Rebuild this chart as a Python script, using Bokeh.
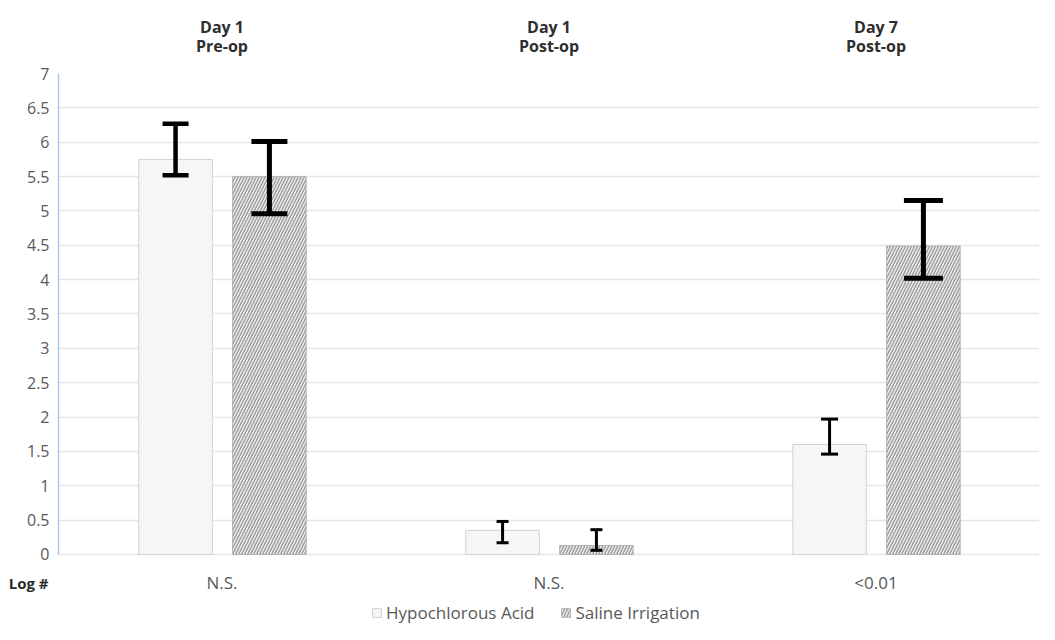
from bokeh.plotting import figure
from bokeh.models import (ColumnDataSource, FixedTicker, Whisker, TeeHead, LinearAxis,
                          Legend, LegendItem, Range1d)
from bokeh.core.properties import value
from bokeh.transform import dodge
from bokeh.embed import file_html
from bokeh.resources import INLINE

# ---- data ----
groups = ["Day 1\nPre-op", "Day 1\nPost-op", "Day 7\nPost-op"]
p_values = ["N.S.", "N.S.", "<0.01"]
series = ["Hypochlorous Acid", "Saline Irrigation"]
hoc_mean = [5.75, 0.35, 1.60]
hoc_low = [5.52, 0.17, 1.46]
hoc_high = [6.27, 0.48, 1.97]
sal_mean = [5.50, 0.13, 4.49]
sal_low = [4.96, 0.06, 4.02]
sal_high = [6.01, 0.36, 5.15]
y_ticks = [0, 0.5, 1, 1.5, 2, 2.5, 3, 3.5, 4, 4.5, 5, 5.5, 6, 6.5, 7]
y_tick_labels = ["0", "0.5", "1", "1.5", "2", "2.5", "3", "3.5", "4", "4.5", "5", "5.5", "6", "6.5", "7"]
row_label = "Log #"

FONT = "Open Sans"
ROW_Y = -0.41          # vertical position of the p-value row (below the zero line)
pos = [i + 0.5 for i in range(len(groups))]  # category centres on a linear scale

p = figure(width=1039, height=624, output_backend="svg", toolbar_location=None,
           x_range=Range1d(0, len(groups)), y_range=Range1d(-1.02, 7),
           x_axis_location="above",
           min_border_left=58, min_border_right=0, min_border_top=73, min_border_bottom=0)
p.outline_line_color = None

src = ColumnDataSource(dict(x=pos, hm=hoc_mean, hl=hoc_low, hh=hoc_high,
                            sm=sal_mean, sl=sal_low, sh=sal_high,
                            pv=p_values, ry=[ROW_Y] * len(pos)))

OFF_H, OFF_S = -0.142, 0.145
r1 = p.vbar(x=dodge("x", OFF_H), top="hm", width=0.225, source=src,
            fill_color="#f4f6f8", line_color="#d2d2d2", line_width=1)
r2 = p.vbar(x=dodge("x", OFF_S), top="sm", width=0.225, source=src,
            fill_color="#ececec", line_color="#b4b4b4", line_width=1,
            hatch_pattern="/", hatch_color="#989898", hatch_scale=6, hatch_weight=1.3)

# error bars (style per bar: line width, cap size)
hoc_style = [(4.5, 26), (3, 12), (3, 17)]
sal_style = [(5, 36), (3, 12), (5, 39)]
for i in range(len(groups)):
    for off, lo, hi, st in ((OFF_H, hoc_low, hoc_high, hoc_style), (OFF_S, sal_low, sal_high, sal_style)):
        s = ColumnDataSource(dict(x=[pos[i]], lo=[lo[i]], hi=[hi[i]]))
        lw, cap = st[i]
        w = Whisker(base=dodge("x", off), lower="lo", upper="hi", source=s, level="overlay",
                    line_color="black", line_width=lw,
                    upper_head=TeeHead(size=cap, line_width=lw, line_color="black"),
                    lower_head=TeeHead(size=cap, line_width=lw, line_color="black"))
        p.add_layout(w)

# p-value row
p.text(x="x", y="ry", text="pv", source=src, text_font=value(FONT), text_font_size="17px",
       text_color="#595959", text_align="center", text_baseline="middle")

# y axis
p.yaxis.ticker = FixedTicker(ticks=y_ticks)
p.yaxis.bounds = (y_ticks[0], y_ticks[-1])
p.yaxis.major_label_overrides = {t: l for t, l in zip(y_ticks, y_tick_labels)}
p.yaxis.axis_line_color = "#a8c6ea"
p.yaxis.axis_line_width = 1.5
p.yaxis.major_tick_line_color = None
p.yaxis.minor_tick_line_color = None
p.yaxis.major_tick_out = 0
p.yaxis.major_label_text_font = FONT
p.yaxis.major_label_text_font_size = "16px"
p.yaxis.major_label_text_color = "#595959"
p.yaxis.major_label_standoff = 9
p.ygrid.ticker = FixedTicker(ticks=y_ticks)
p.ygrid.grid_line_color = "#e6e6e6"
p.ygrid.grid_line_width = 1.3
p.xgrid.grid_line_color = None

# row label axis ("Log #") placed outside the value axis, pulled inward by a negative standoff
row_axis = LinearAxis(ticker=FixedTicker(ticks=[ROW_Y]), major_label_overrides={ROW_Y: row_label},
                      axis_line_color=None, major_tick_line_color=None, minor_tick_line_color=None,
                      major_tick_out=0, major_tick_in=0,
                      major_label_text_font=FONT, major_label_text_font_size="15px",
                      major_label_text_font_style="bold", major_label_text_color="#2b2b2b",
                      major_label_standoff=-25)
p.add_layout(row_axis, "left")

# top axis with group labels
p.xaxis.ticker = FixedTicker(ticks=pos)
p.xaxis.major_label_overrides = {x: g for x, g in zip(pos, groups)}
p.xaxis.axis_line_color = None
p.xaxis.major_tick_line_color = None
p.xaxis.minor_tick_line_color = None
p.xaxis.major_tick_out = 0
p.xaxis.major_label_text_font = FONT
p.xaxis.major_label_text_font_size = "16px"
p.xaxis.major_label_text_line_height = 0.85
p.xaxis.major_label_text_color = "#2e2e2e"
p.xaxis.major_label_text_font_style = "bold"
p.xaxis.major_label_standoff = 17

legend = Legend(items=[LegendItem(label=series[0], renderers=[r1]),
                       LegendItem(label=series[1], renderers=[r2])],
                orientation="horizontal", location=(313, 0),
                label_text_font=FONT, label_text_font_size="17px", label_text_color="#595959",
                glyph_width=11, glyph_height=11, label_standoff=4, spacing=26,
                border_line_color=None, background_fill_alpha=0, padding=2, margin=0)
p.add_layout(legend, "center")

open("out.html", "w").write(file_html(p, INLINE))
